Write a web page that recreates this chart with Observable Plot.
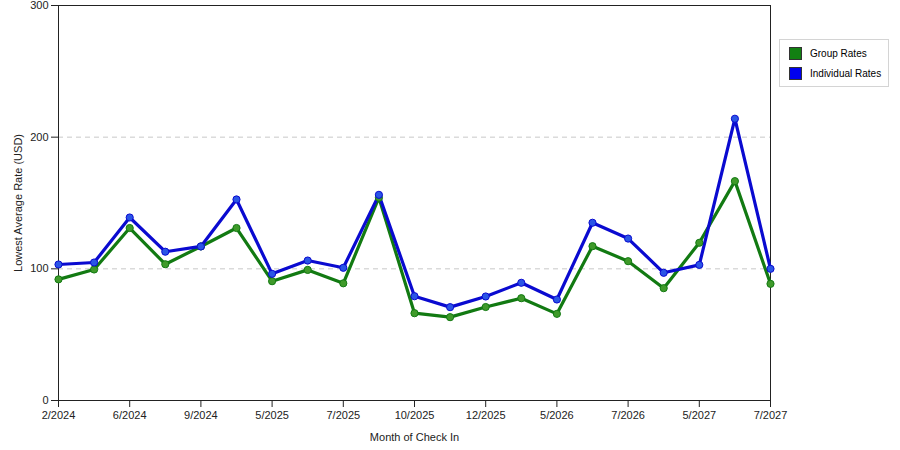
<!DOCTYPE html>
<html>
<head>
<meta charset="utf-8">
<script src="https://cdn.jsdelivr.net/npm/d3@7"></script>
<script src="https://cdn.jsdelivr.net/npm/@observablehq/plot@0.6"></script>
<style>
  body { margin: 0; background: #fff; font-family: "Liberation Sans", Arial, sans-serif; }
  #wrap { position: relative; width: 900px; height: 450px; }
  #legend { position: absolute; left: 779px; top: 39px; width: 108px; height: 46px; border: 1px solid #d4d4d4; background: #fff; font-size: 10px; color: #000; }
  .item { position: absolute; left: 9px; height: 14px; line-height: 14px; }
  .sw { display: inline-block; width: 13px; height: 13px; vertical-align: top; margin-right: 8px; border: 1px solid #333; box-sizing: border-box; }
</style>
</head>
<body>
<div id="wrap"></div>
<script>
const months = ["2/2024","4/2024","6/2024","7/2024","9/2024","11/2024","5/2025","6/2025","7/2025","9/2025","10/2025","11/2025","12/2025","2/2026","5/2026","6/2026","7/2026","9/2026","5/2027","6/2027","7/2027"];
const tickLabels = ["2/2024","6/2024","9/2024","5/2025","7/2025","10/2025","12/2025","5/2026","7/2026","5/2027","7/2027"];
const groupRates = [92, 99.5, 131, 103.5, 117, 131, 90.6, 99.2, 89, 154, 66.3, 63.3, 71, 77.7, 65.8, 117.2, 105.8, 85.3, 119.8, 166.6, 88.6];
const individualRates = [103.3, 104.8, 139, 113, 117, 152.7, 96.2, 106.3, 100.8, 156.2, 79.2, 70.9, 79, 89.4, 76.7, 135, 123, 97, 103, 214, 100];
const seriesNames = ["Group Rates", "Individual Rates"];
const seriesColors = ["#127a12", "#0a0ad0"];
const dotColors = ["#3f9a2a", "#2a55e6"];
const swatchColors = ["#128012", "#0000ee"];

const data = [];
months.forEach((m, i) => {
  data.push({month: m, value: groupRates[i], series: seriesNames[0]});
  data.push({month: m, value: individualRates[i], series: seriesNames[1]});
});

const chart = Plot.plot({
  width: 900,
  height: 450,
  marginLeft: 58,
  marginRight: 130,
  marginTop: 5,
  marginBottom: 50,
  style: {fontFamily: "'Liberation Sans', Arial, sans-serif", fontSize: "11px", color: "#222", background: "#fff"},
  x: {type: "point", domain: months, padding: 0, round: false},
  y: {domain: [0, 300]},
  color: {domain: seriesNames, range: seriesColors},
  marks: [
    Plot.ruleY([100, 200], {stroke: "#c8c8c8", strokeDasharray: "5,4", strokeOpacity: 1}),
    Plot.frame({stroke: "#222", strokeWidth: 1}),
    Plot.line(data, {x: "month", y: "value", z: "series", stroke: "series", strokeWidth: 3.2, curve: "linear"}),
    Plot.dot(data, {x: "month", y: "value", fill: d => dotColors[seriesNames.indexOf(d.series)], stroke: d => seriesColors[seriesNames.indexOf(d.series)], strokeWidth: 1, r: 3.6}),
    Plot.axisX({ticks: tickLabels, tickSize: 7, label: "Month of Check In", labelAnchor: "center", labelOffset: 40, tickPadding: 4}),
    Plot.axisY({ticks: [0,100,200,300], tickSize: 7, label: "Lowest Average Rate (USD)", labelAnchor: "center", labelOffset: 44, labelArrow: "none", tickPadding: 3})
  ]
});

const wrap = document.getElementById("wrap");
wrap.appendChild(chart);

const legend = document.createElement("div");
legend.id = "legend";
seriesNames.forEach((name, i) => {
  const item = document.createElement("div");
  item.className = "item";
  item.style.top = (7 + i * 20) + "px";
  const sw = document.createElement("span");
  sw.className = "sw";
  sw.style.background = swatchColors[i];
  item.appendChild(sw);
  item.appendChild(document.createTextNode(name));
  legend.appendChild(item);
});
wrap.appendChild(legend);
</script>
</body>
</html>
